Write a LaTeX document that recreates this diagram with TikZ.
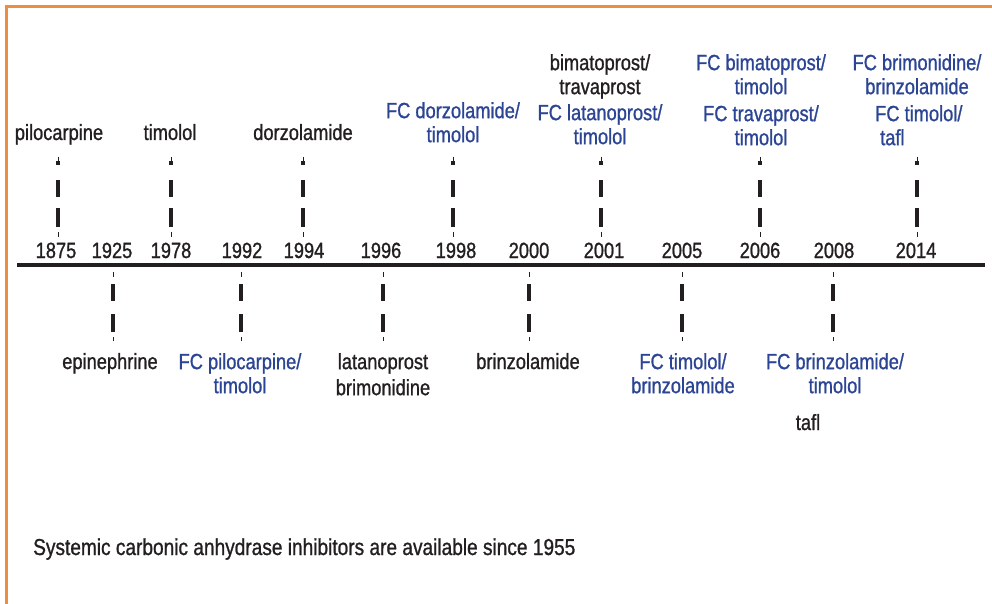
\documentclass[tikz,border=0pt]{standalone}
\usepackage{fontspec}
\setmainfont{Liberation Sans}[FakeStretch=0.83,FakeBold=1.0]
\definecolor{ink}{RGB}{35,31,32}
\definecolor{fcblue}{RGB}{43,68,148}
\definecolor{frame}{RGB}{241,140,62}
\begin{document}
\begin{tikzpicture}[x=1pt,y=-1pt,
  lbl/.style={inner sep=0pt,text=ink,font=\fontsize{22}{24}\selectfont},
  fc/.style={lbl,text=fcblue},
  two/.style={align=center,anchor=north},
  one/.style={anchor=base},
  yr/.style={lbl,anchor=base},
  thin/.style={line width=0.9pt,ink},
  thick/.style={line width=4pt,ink}]
\useasboundingbox (0,0) rectangle (992,604);
% frame
\draw[frame,line width=3pt] (6,604) -- (6,7) -- (992,7);
% axis
\coordinate (axL) at (17,265);
\coordinate (axR) at (985,265);
\draw[ink,line width=4.2pt] (axL) -- (axR);
% years
\node[yr] (y1875) at (56,258) {1875};
\node[yr] (y1925) at (112,258) {1925};
\node[yr] (y1978) at (171,258) {1978};
\node[yr] (y1992) at (242,258) {1992};
\node[yr] (y1994) at (304,258) {1994};
\node[yr] (y1996) at (381,258) {1996};
\node[yr] (y1998) at (456,258) {1998};
\node[yr] (y2000) at (529,258) {2000};
\node[yr] (y2001) at (604,258) {2001};
\node[yr] (y2005) at (682,258) {2005};
\node[yr] (y2006) at (760,258) {2006};
\node[yr] (y2008) at (834,258) {2008};
\node[yr] (y2014) at (916,258) {2014};
% upward dashes
\foreach \x in {58,171,303,453,601,760,917}{
  \draw[thin] (\x,157) -- (\x,165);
  \draw[thick] (\x,161.5) -- (\x,165);
  \draw[thick] (\x,180) -- (\x,197);
  \draw[thick] (\x,208) -- (\x,227);
  \draw[thin] (\x,232) -- (\x,237);
}
% downward dashes
\foreach \x in {113,241,383,529,682,833}{
  \draw[thin] (\x,272) -- (\x,277);
  \draw[thick] (\x,284) -- (\x,301);
  \draw[thick] (\x,314) -- (\x,332);
  \draw[thin] (\x,337) -- (\x,341);
}
% top labels
\node[lbl,one] (pilo) at (59,140) {pilocarpine};
\node[lbl,one] (timo) at (170,140) {timolol};
\node[lbl,one] (dorz) at (303,140) {dorzolamide};
\node[fc,two] (fcdorz) at (453,102) {FC dorzolamide/\\timolol};
\node[lbl,two] (bima) at (600,54) {bimatoprost/\\travaprost};
\node[fc,two] (fclat) at (600,104) {FC latanoprost/\\timolol};
\node[fc,two] (fcbima) at (761,54) {FC bimatoprost/\\timolol};
\node[fc,two] (fctrav) at (761,105) {FC travaprost/\\timolol};
\node[fc,two] (fcbrim) at (917,54) {FC brimonidine/\\brinzolamide};
\node[fc,align=left,anchor=north west] (fctafl) at (875,105) {FC timolol/\\\hspace*{5pt}tafl};
% bottom labels
\node[lbl,one] (epi) at (110,369) {epinephrine};
\node[fc,two] (fcpilo) at (240,353) {FC pilocarpine/\\timolol};
\node[lbl,two,font=\fontsize{22}{26}\selectfont] (lat) at (383,353) {latanoprost\\brimonidine};
\node[lbl,one] (brinz) at (528,369) {brinzolamide};
\node[fc,two] (fctim) at (683,353) {FC timolol/\\brinzolamide};
\node[fc,two] (fcbrinz) at (835,353) {FC brinzolamide/\\timolol};
\node[lbl,one] (tafl) at (808,430) {tafl};
% footer
\node[lbl,anchor=base west,font=\fontsize{23}{26}\selectfont] (foot) at (33,555) {Systemic carbonic anhydrase inhibitors are available since 1955};
\end{tikzpicture}
\end{document}
